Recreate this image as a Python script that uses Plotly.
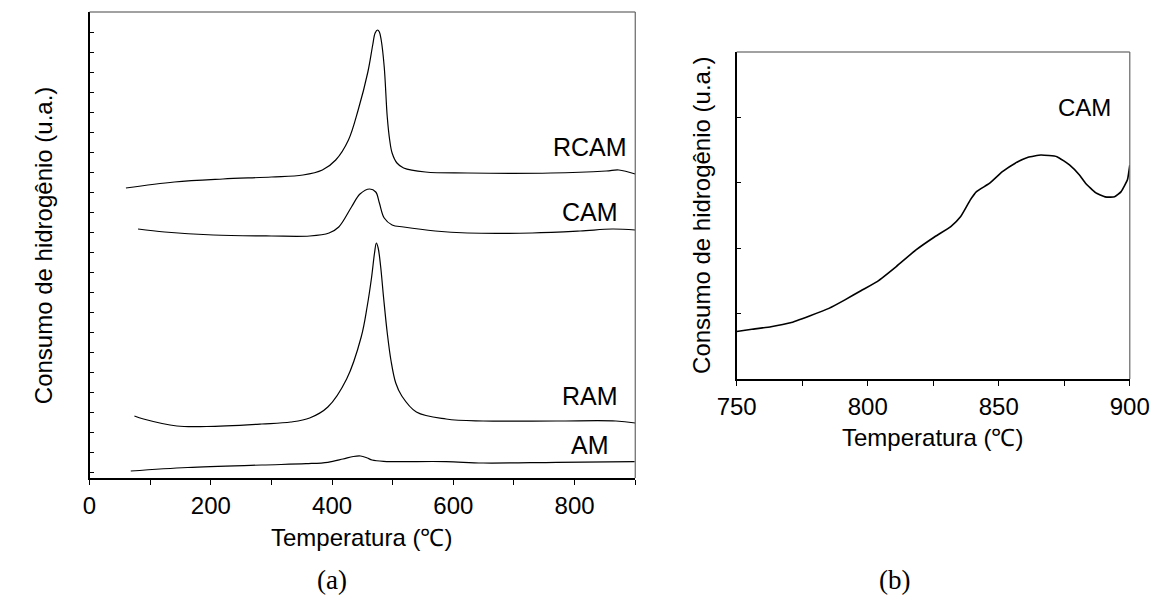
import plotly.graph_objects as go

# ---- panel (a) data: temperature (°C) and hydrogen consumption (a.u., offset curves) ----
rcam_t = [60, 140, 220, 300, 352, 384, 406, 427, 443, 459, 467, 471, 475, 478, 481, 486, 491, 495, 499, 507, 518, 554, 623, 761, 852, 873, 900]
rcam_v = [290, 296, 299, 301, 303, 308, 318, 338, 368, 406, 433, 445, 448, 446, 438, 411, 361, 338, 325, 315, 310, 306, 305, 305, 307, 308, 304]

cam_t = [80, 124, 204, 300, 363, 395, 411, 432, 446, 462, 472, 478, 486, 499, 518, 570, 623, 730, 809, 862, 900]
cam_v = [249, 246, 243, 242, 242, 245, 251, 271, 284, 289, 286, 275, 260, 253, 251, 247, 245, 245, 247, 249, 248]

ram_t = [74, 89, 144, 193, 284, 332, 363, 393, 424, 448, 458, 465, 470, 473, 476, 480, 485, 491, 497, 505, 515, 539, 588, 649, 770, 868, 900]
ram_v = [62, 59, 52, 51.5, 54, 56, 60, 71, 99, 141, 172, 200, 225, 235, 230, 212, 180, 145, 118, 95, 82, 66, 59, 57, 57, 57, 55]

am_t = [68, 162, 284, 357, 393, 418, 435, 447, 458, 466, 485, 588, 649, 770, 899]
am_v = [7, 10.5, 13, 14.3, 15.7, 19, 21.5, 22, 20, 18, 16.7, 16.4, 15, 15.7, 16.4]

# ---- panel (b) data: CAM zoom 750-900 °C ----
camb_t = [750, 755.8, 763.1, 770.5, 777.8, 785.2, 791.3, 797.4, 803.6, 810.9, 818.3, 825.6, 831.7, 835.4,
          839.1, 841.5, 846.4, 851.4, 856.3, 861.2, 866.1, 872.2, 877.1, 880.8, 883.2, 886.9, 890.6,
          894.2, 896.7, 899.1, 900]
camb_v = [14.5, 15.2, 16.0, 17.2, 19.3, 21.6, 24.2, 27.0, 29.8, 34.4, 39.4, 43.5, 46.6, 49.6,
          54.7, 57.3, 59.8, 63.4, 66.0, 67.8, 68.5, 68.0, 65.4, 62.4, 59.8, 57.0, 55.7,
          55.7, 57.3, 60.9, 65.4]

labels_a = ["RCAM", "CAM", "RAM", "AM"]
label_a_y = [331, 266, 82, 33]

W, H = 1172, 601
line = dict(color="black", width=1.2, shape="spline", smoothing=1.0)

fig = go.Figure()
for t, v in [(rcam_t, rcam_v), (cam_t, cam_v), (ram_t, ram_v), (am_t, am_v)]:
    fig.add_trace(go.Scatter(x=t, y=v, mode="lines", line=line, xaxis="x", yaxis="y",
                             showlegend=False, hoverinfo="skip"))
fig.add_trace(go.Scatter(x=camb_t, y=camb_v, mode="lines",
                         line=dict(color="black", width=1.6, shape="spline", smoothing=0.4),
                         xaxis="x2", yaxis="y2", showlegend=False, hoverinfo="skip"))

font = dict(family="Liberation Sans, Arial", size=24, color="black")
lab_font = dict(family="Liberation Sans, Arial", size=25, color="black")


def px_x(p):
    return p / W


def px_y(p):
    return 1 - p / H


axis_common = dict(showline=True, linecolor="black", linewidth=2, mirror=False,
                   showgrid=False, zeroline=False, tickfont=font, ticks="outside",
                   ticklen=5, tickcolor="black", tickwidth=1)

fig.update_layout(
    width=W, height=H, margin=dict(l=0, r=0, t=0, b=0),
    paper_bgcolor="white", plot_bgcolor="white", showlegend=False,
    xaxis=dict(domain=[px_x(72), px_x(637)], range=[0, 900], tickvals=[0, 200, 400, 600, 800],
               minor=dict(ticks="outside", ticklen=5, dtick=100, tick0=0, tickcolor="black"),
               anchor="y", **axis_common),
    yaxis=dict(domain=[px_y(478), px_y(12)], range=[0, 466], showticklabels=False,
               anchor="x", **{**axis_common, "ticks": "inside", "ticklen": 4},
               tick0=6, dtick=20),
    xaxis2=dict(domain=[px_x(742), px_x(1149)], range=[750, 900], tickvals=[750, 800, 850, 900],
                minor=dict(ticks="outside", ticklen=5, dtick=25, tick0=750, tickcolor="black"),
                anchor="y2", **axis_common),
    yaxis2=dict(domain=[px_y(379), px_y(52)], range=[0, 100], showticklabels=False,
                tickvals=[20, 40, 60, 80], anchor="x2",
                **{**axis_common, "ticks": "inside", "ticklen": 4}),
)

# top / right frame lines (thinner, grey as in the reference)
shapes = []
for xr, yr in [("x domain", "y domain"), ("x2 domain", "y2 domain")]:
    shapes.append(dict(type="line", xref=xr, yref=yr, x0=0, x1=1, y0=1, y1=1,
                       line=dict(color="#444", width=1.2)))
    shapes.append(dict(type="line", xref=xr, yref=yr, x0=1, x1=1, y0=0, y1=1,
                       line=dict(color="#666", width=1.2)))
fig.update_layout(shapes=shapes)

C = dict(xanchor="center", yanchor="middle", showarrow=False)
ann = []
for name, yv in zip(labels_a, label_a_y):
    ann.append(dict(x=826, y=yv, xref="x", yref="y", text=name, font=lab_font, **C))
ann.append(dict(x=882.7, y=82.9, xref="x2", yref="y2", text="CAM",
                font=dict(family="Liberation Sans, Arial", size=24, color="black"), **C))
# axis titles
ann.append(dict(x=px_x(354), y=px_y(537), xref="paper", yref="paper", text="Temperatura (℃)",
                font=font, **C))
ann.append(dict(x=px_x(945), y=px_y(437), xref="paper", yref="paper", text="Temperatura (℃)",
                font=font, **C))
ann.append(dict(x=px_x(24), y=px_y(245), xref="paper", yref="paper", text="Consumo de hidrogênio (u.a.)",
                textangle=-90, font=font, **C))
ann.append(dict(x=px_x(705), y=px_y(215), xref="paper", yref="paper", text="Consumo de hidrogênio (u.a.)",
                textangle=-90, font=font, **C))
# panel labels
serif = dict(family="Liberation Serif, Times New Roman", size=27, color="black")
ann.append(dict(x=px_x(323), y=px_y(580), xref="paper", yref="paper", text="(a)", font=serif, **C))
ann.append(dict(x=px_x(905), y=px_y(580), xref="paper", yref="paper", text="(b)", font=serif, **C))
fig.update_layout(annotations=ann)

fig.write_html("out.html")
